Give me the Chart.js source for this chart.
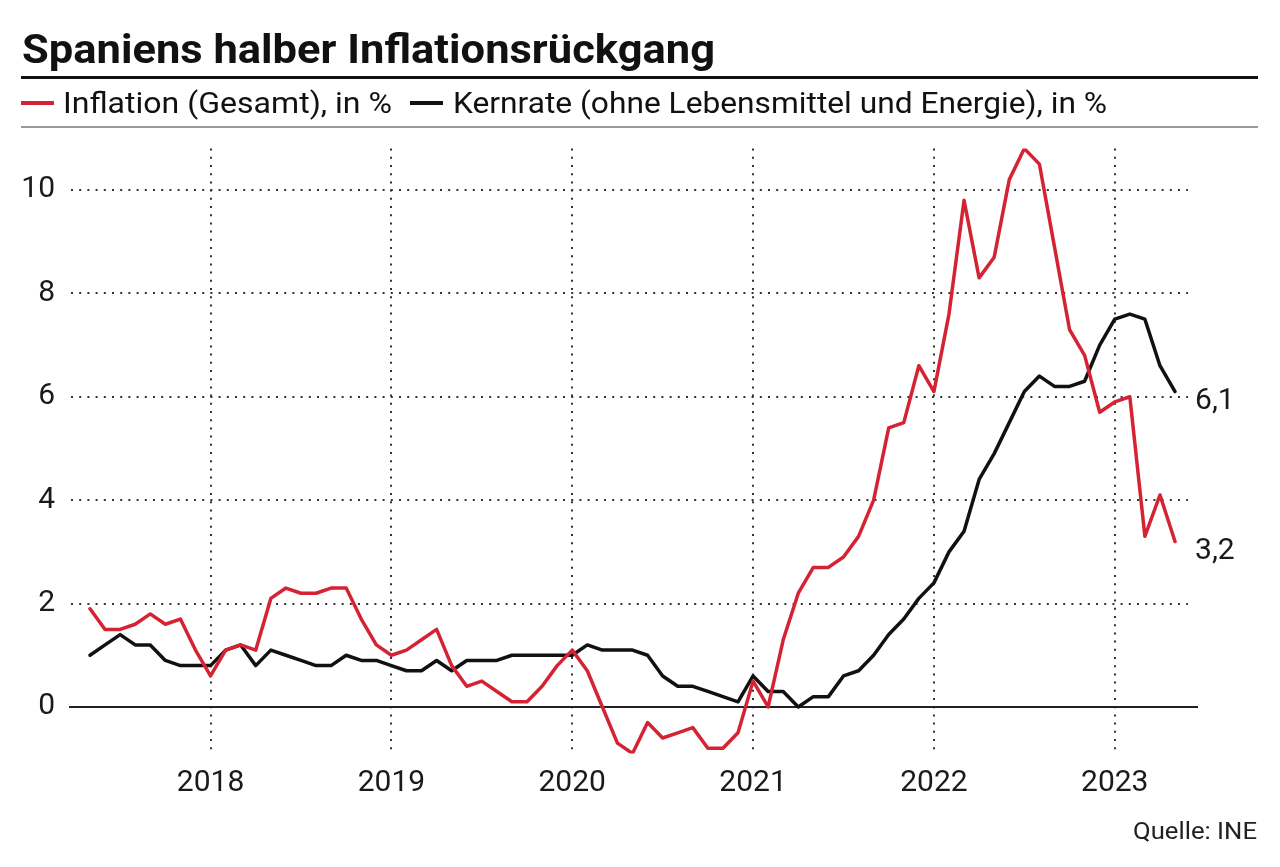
<!DOCTYPE html>
<html>
<head>
<meta charset="utf-8">
<script src="https://cdn.jsdelivr.net/npm/chart.js@4/dist/chart.umd.min.js"></script>
<style>
  body { margin: 0; background: #fff; }
  #wrap { position: relative; width: 1280px; height: 867px; overflow: hidden; font-family: Roboto, sans-serif; color: #111; }
  #chart { position: absolute; left: 0; top: 0; }
  .txt { position: absolute; white-space: nowrap; line-height: 1; transform-origin: left top; }
  .title { left: 22px; top: 29px; font-size: 41px; font-weight: 700; }
  .leg { top: 89px; font-size: 29px; }
  .src { top: 820px; font-size: 23px; color: #222; }
  .rule { position: absolute; left: 21px; width: 1237px; }
  .dash { position: absolute; top: 101px; width: 33px; height: 4px; }
</style>
</head>
<body>
<div id="wrap">
  <canvas id="chart" width="1280" height="867"></canvas>
  <div class="txt title" id="title" data-w="693">Spaniens halber Inflationsrückgang</div>
  <div class="rule" style="top:76px;height:3px;background:#111"></div>
  <div class="dash" style="left:21px;background:#d42332"></div>
  <div class="txt leg" id="leg1" style="left:63px" data-w="329">Inflation (Gesamt), in %</div>
  <div class="dash" style="left:410px;background:#111"></div>
  <div class="txt leg" id="leg2" style="left:453px" data-w="654">Kernrate (ohne Lebensmittel und Energie), in %</div>
  <div class="rule" style="top:126px;height:2px;background:#9a9a9a"></div>
  <div class="txt src" id="src" style="left:1133px" data-w="124">Quelle: INE</div>
</div>
<script>
// Monthly values, May 2017 - May 2023
const months = [
  '05.2017', '06.2017', '07.2017', '08.2017', '09.2017', '10.2017', '11.2017', '12.2017',
  '01.2018', '02.2018', '03.2018', '04.2018', '05.2018', '06.2018', '07.2018', '08.2018', '09.2018', '10.2018', '11.2018', '12.2018',
  '01.2019', '02.2019', '03.2019', '04.2019', '05.2019', '06.2019', '07.2019', '08.2019', '09.2019', '10.2019', '11.2019', '12.2019',
  '01.2020', '02.2020', '03.2020', '04.2020', '05.2020', '06.2020', '07.2020', '08.2020', '09.2020', '10.2020', '11.2020', '12.2020',
  '01.2021', '02.2021', '03.2021', '04.2021', '05.2021', '06.2021', '07.2021', '08.2021', '09.2021', '10.2021', '11.2021', '12.2021',
  '01.2022', '02.2022', '03.2022', '04.2022', '05.2022', '06.2022', '07.2022', '08.2022', '09.2022', '10.2022', '11.2022', '12.2022',
  '01.2023', '02.2023', '03.2023', '04.2023', '05.2023'
];

const inflation = [
  1.9, 1.5, 1.5, 1.6, 1.8, 1.6, 1.7, 1.1,
  0.6, 1.1, 1.2, 1.1, 2.1, 2.3, 2.2, 2.2, 2.3, 2.3, 1.7, 1.2,
  1.0, 1.1, 1.3, 1.5, 0.8, 0.4, 0.5, 0.3, 0.1, 0.1, 0.4, 0.8,
  1.1, 0.7, 0.0, -0.7, -0.9, -0.3, -0.6, -0.5, -0.4, -0.8, -0.8, -0.5,
  0.5, 0.0, 1.3, 2.2, 2.7, 2.7, 2.9, 3.3, 4.0, 5.4, 5.5, 6.6,
  6.1, 7.6, 9.8, 8.3, 8.7, 10.2, 10.8, 10.5, 8.9, 7.3, 6.8, 5.7,
  5.9, 6.0, 3.3, 4.1, 3.2
];

const core = [
  1.0, 1.2, 1.4, 1.2, 1.2, 0.9, 0.8, 0.8,
  0.8, 1.1, 1.2, 0.8, 1.1, 1.0, 0.9, 0.8, 0.8, 1.0, 0.9, 0.9,
  0.8, 0.7, 0.7, 0.9, 0.7, 0.9, 0.9, 0.9, 1.0, 1.0, 1.0, 1.0,
  1.0, 1.2, 1.1, 1.1, 1.1, 1.0, 0.6, 0.4, 0.4, 0.3, 0.2, 0.1,
  0.6, 0.3, 0.3, 0.0, 0.2, 0.2, 0.6, 0.7, 1.0, 1.4, 1.7, 2.1,
  2.4, 3.0, 3.4, 4.4, 4.9, 5.5, 6.1, 6.4, 6.2, 6.2, 6.3, 7.0,
  7.5, 7.6, 7.5, 6.6, 6.1
];

const yTicks = [0, 2, 4, 6, 8, 10];

const RED = '#d42332';
const BLACK = '#111111';
const DOTS = '#333333';

// stretch html texts to the measured widths of the original
function fitWidth(el) {
  const w = parseFloat(el.dataset.w);
  const cur = el.getBoundingClientRect().width;
  if (cur > 0) el.style.transform = 'scaleX(' + (w / cur) + ')';
}

// zero line and value labels at the line ends
const extras = {
  id: 'extras',
  beforeDatasetsDraw(chart) {
    const {ctx, chartArea, scales} = chart;
    const py = Math.round(scales.y.getPixelForValue(0));
    ctx.save();
    ctx.strokeStyle = '#222';
    ctx.lineWidth = 2;
    ctx.beginPath();
    ctx.moveTo(chartArea.left - 2, py);
    ctx.lineTo(chartArea.right + 10, py);
    ctx.stroke();
    ctx.restore();
  },
  afterDatasetsDraw(chart) {
    const ctx = chart.ctx;
    ctx.save();
    ctx.font = '30px Roboto, sans-serif';
    ctx.fillStyle = '#1a1a1a';
    ctx.textAlign = 'left';
    ctx.textBaseline = 'middle';
    chart.data.datasets.forEach((ds, i) => {
      const pts = chart.getDatasetMeta(i).data;
      const last = pts[pts.length - 1];
      const v = ds.data[ds.data.length - 1].y;
      ctx.fillText(v.toFixed(1).replace('.', ','), last.x + 20, last.y + 10);
    });
    ctx.restore();
  }
};

document.addEventListener('DOMContentLoaded', () => {
  document.querySelectorAll('[data-w]').forEach(fitWidth);

  Chart.defaults.font.family = 'Roboto, sans-serif';
  Chart.defaults.color = '#1a1a1a';

  const toPoints = (arr) => arr.map((v, i) => ({x: i, y: v}));

  new Chart(document.getElementById('chart'), {
    type: 'line',
    data: {
      datasets: [
        {label: 'Inflation (Gesamt), in %', data: toPoints(inflation), borderColor: RED, borderWidth: 3.5},
        {label: 'Kernrate (ohne Lebensmittel und Energie), in %', data: toPoints(core), borderColor: BLACK, borderWidth: 3.5}
      ]
    },
    options: {
      responsive: false,
      animation: false,
      devicePixelRatio: 1,
      layout: {padding: {left: 0, right: 92, top: 148.6, bottom: 53.5}},
      elements: {
        point: {radius: 0},
        line: {tension: 0, borderJoinStyle: 'round', borderCapStyle: 'round'}
      },
      plugins: {
        legend: {display: false},
        tooltip: {enabled: false}
      },
      scales: {
        x: {
          type: 'linear',
          min: -1.26,
          max: 72.86,
          afterFit: (s) => { s.height = 60; },
          afterBuildTicks: (s) => {
            s.ticks = months.map((m, i) => ({value: i, m: m})).filter(t => t.m.startsWith('01.')).map(t => ({value: t.value}));
          },
          ticks: {
            autoSkip: false,
            maxRotation: 0,
            padding: 12,
            font: {size: 30},
            callback: (v) => months[v].slice(3)
          },
          grid: {color: DOTS, lineWidth: 2, drawTicks: false},
          border: {display: false, dash: [2, 6.2]}
        },
        y: {
          min: -0.9,
          max: 10.8,
          afterFit: (s) => { s.width = 71; },
          afterBuildTicks: (s) => { s.ticks = yTicks.map(v => ({value: v})); },
          ticks: {padding: 16, font: {size: 30}},
          grid: {
            color: (c) => (c.tick && c.tick.value === 0) ? 'rgba(0,0,0,0)' : DOTS,
            lineWidth: 2,
            drawTicks: false
          },
          border: {display: false, dash: [2, 6.2]}
        }
      }
    },
    plugins: [extras]
  });
});
</script>
</body>
</html>
